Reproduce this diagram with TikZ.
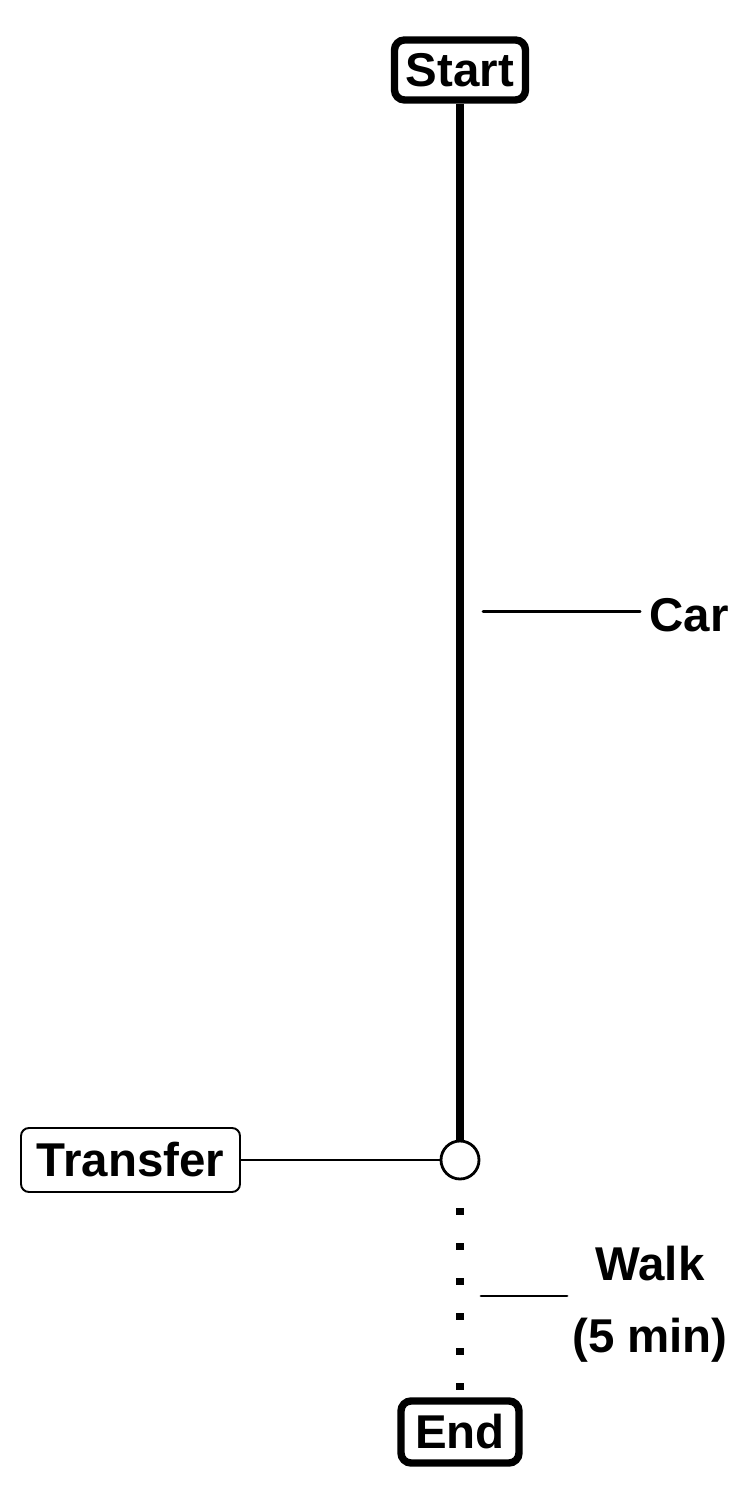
\documentclass[tikz,border=0pt]{standalone}
\usepackage{fontspec}
\setmainfont{Liberation Sans}
\usetikzlibrary{positioning}
\tikzstyle{endpoint}=[draw,line width=4.2pt,rounded corners=0.2cm,inner sep=0pt,font=\fontsize{27}{31}\selectfont\bfseries]
\tikzstyle{stopbox}=[draw,line width=1.1pt,rounded corners=0.16cm,inner sep=0pt,font=\fontsize{27}{31}\selectfont\bfseries]
\tikzstyle{hub}=[draw,circle,line width=1.6pt,fill=white,minimum size=0.76cm,inner sep=0pt]
\tikzstyle{carleg}=[line width=4.6pt]
\tikzstyle{walkleg}=[line width=4.2pt,dash pattern=on 0.14cm off 0.56cm,dash phase=0.14cm]
\tikzstyle{tick}=[line width=1.7pt,line cap=round]
\tikzstyle{legname}=[inner sep=0pt,align=center,font=\fontsize{27}{41}\selectfont\bfseries]
\begin{document}
\begin{tikzpicture}
\useasboundingbox (0,0) rectangle (15,30);
\node[endpoint,minimum width=2.62cm,minimum height=1.2cm] (start) at (9.2,28.6) {Start};
\node[hub] (transferpt) at (9.2,6.8) {};
\node[endpoint,minimum width=2.36cm,minimum height=1.24cm] (end) at (9.2,1.36) {End};
\node[stopbox,minimum width=4.38cm,minimum height=1.28cm] (transfer) at (2.61,6.8) {Transfer};
\draw[carleg] (start.south) -- (transferpt.north);
\draw[walkleg] (transferpt.south) -- (end.north);
\draw[tick] (transfer.east) -- (transferpt.west);
% leg labels
\coordinate (carmark) at (9.66,17.76);
\coordinate (carend) at (12.8,17.76);
\node[legname,anchor=west] (car) at (12.98,17.7) {Car};
\draw[tick] (carmark) -- (carend);
\coordinate (walkmark) at (9.62,4.08);
\coordinate (walkend) at (11.34,4.08);
\node[legname] (walk) at (13.0,3.92) {Walk\\(5 min)};
\draw[tick] (walkmark) -- (walkend);
\end{tikzpicture}
\end{document}
